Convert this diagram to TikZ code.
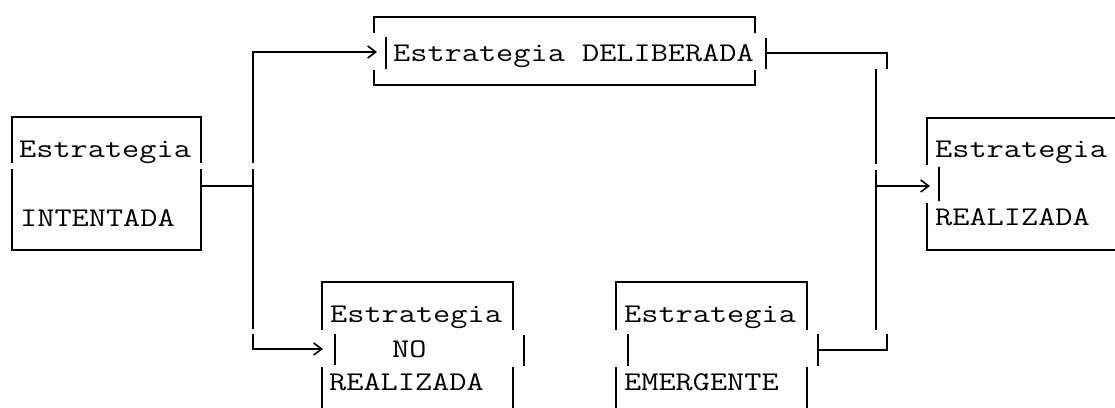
\documentclass[tikz,border=0pt]{standalone}
\usetikzlibrary{arrows.meta}
\newcommand{\mytt}[1]{\scalebox{1.235}[1]{#1}}
\tikzset{
  ln/.style={line width=1.8pt, line join=miter, line cap=butt},
  arr/.style={ln, -{Straight Barb[length=8pt,width=12pt,line width=1.6pt]}},
  txt/.style={anchor=base west, inner sep=0pt, font=\fontsize{27}{30}\selectfont\ttfamily}
}
\begin{document}
\begin{tikzpicture}[x=1pt,y=-1pt]
\useasboundingbox (0,0) rectangle (1115,407);
% texts
\node[txt] (int1) at (19,157) {\mytt{Estrategia}};
\node[txt] (int2) at (20,226) {\mytt{INTENTADA}};
\node[txt] (del) at (393,61) {\mytt{Estrategia DELIBERADA}};
\node[txt] (rea1) at (935,157) {\mytt{Estrategia}};
\node[txt] (rea2) at (935,225) {\mytt{REALIZADA}};
\node[txt] (no1) at (330,322) {\mytt{Estrategia}};
\node[txt] (no2) at (392,357) {\mytt{NO}};
\node[txt] (no3) at (329,390) {\mytt{REALIZADA}};
\node[txt] (em1) at (624,322) {\mytt{Estrategia}};
\node[txt] (em2) at (624,390) {\mytt{EMERGENTE}};
% coordinates
\coordinate (trunkL) at (253,186);
\coordinate (tipDel) at (377,52);
\coordinate (tipNo) at (323,349);
\coordinate (trunkR) at (876,186);
\coordinate (tipRea) at (930,186);
% INTENTADA box
\draw[ln] (12,163) -- (12,117) -- (201,117) -- (201,163);
\draw[ln] (12,169) -- (12,250) -- (201,250) -- (201,169);
\draw[ln] (201,186) -- (trunkL);
% left trunk
\draw[arr] (253,163) -- (253,52) -- (tipDel);
\draw[ln] (253,169) -- (253,329);
\draw[arr] (253,334) -- (253,349) -- (tipNo);
% DELIBERADA box
\draw[ln] (374,33) -- (374,17) -- (755,17) -- (755,33);
\draw[ln] (374,70) -- (374,85) -- (755,85) -- (755,70);
\draw[ln] (386,37) -- (386,69);
\draw[ln] (766,38) -- (766,69);
\draw[ln] (766,53) -- (887,53) -- (887,69);
% right trunk
\draw[ln] (876,69) -- (876,164);
\draw[ln] (876,170) -- (876,330);
\draw[arr] (trunkR) -- (tipRea);
% REALIZADA box
\draw[ln] (927,165) -- (927,118) -- (1116,118);
\draw[ln] (927,203) -- (927,250) -- (1116,250);
\draw[ln] (939,167) -- (939,201);
% EMERGENTE link
\draw[ln] (887,334) -- (887,350) -- (818,350);
\draw[ln] (818,334) -- (818,366);
% EMERGENTE box
\draw[ln] (616,330) -- (616,282) -- (807,282) -- (807,330);
\draw[ln] (628,334) -- (628,366);
\draw[ln] (616,367) -- (616,408);
\draw[ln] (807,367) -- (807,408);
% NO REALIZADA box
\draw[ln] (322,330) -- (322,282) -- (513,282) -- (513,330);
\draw[ln] (335,334) -- (335,365);
\draw[ln] (524,335) -- (524,366);
\draw[ln] (322,367) -- (322,408);
\draw[ln] (513,367) -- (513,408);
\end{tikzpicture}
\end{document}
